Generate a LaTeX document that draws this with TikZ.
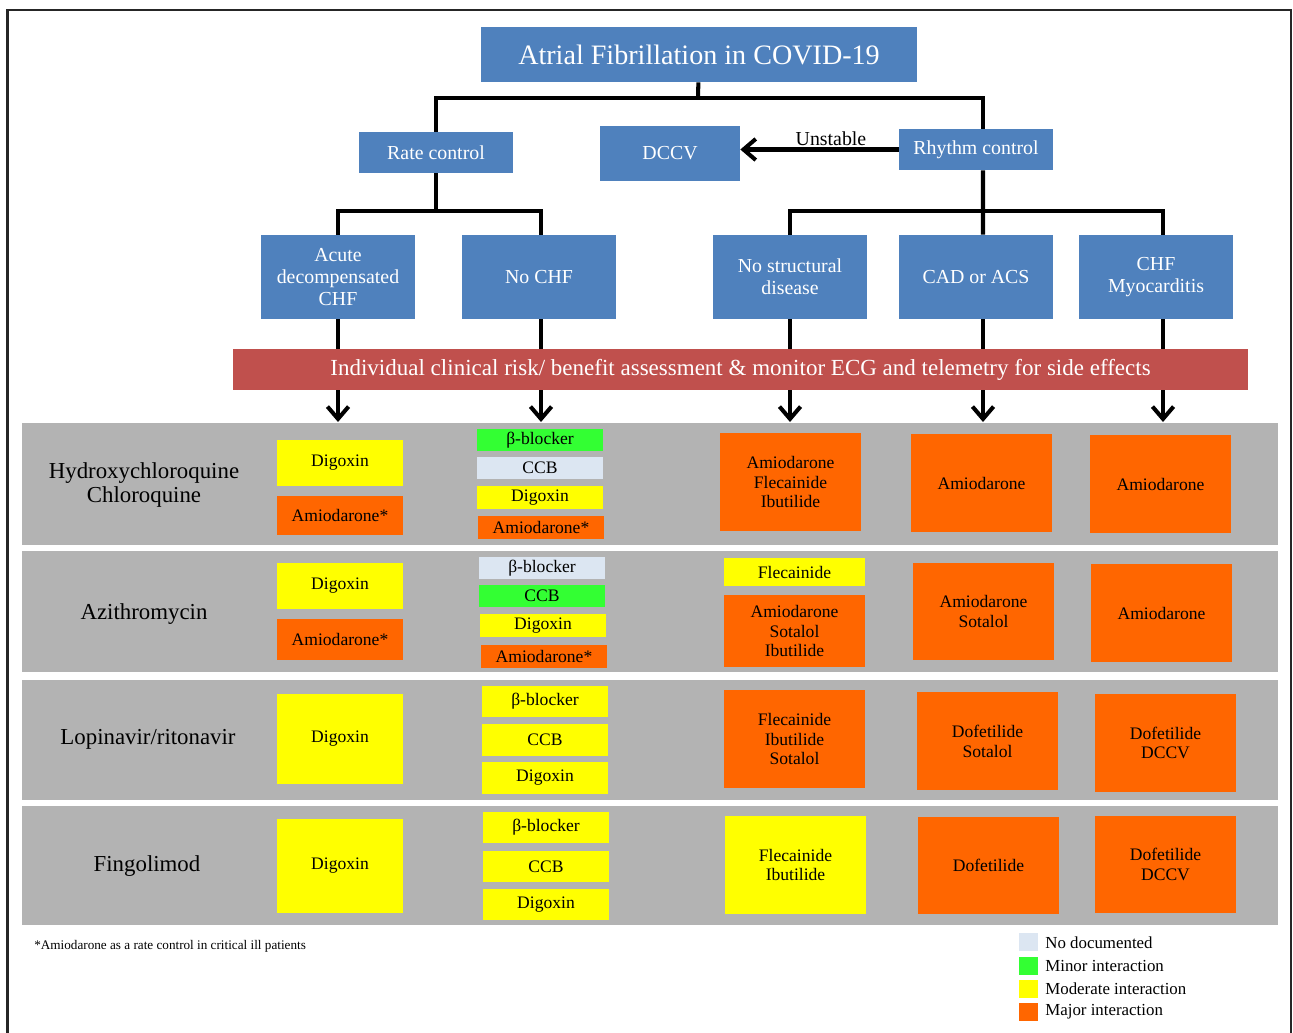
\documentclass[tikz,border=0pt]{standalone}
\usepackage{fontspec}
\setmainfont{Liberation Serif}
\usetikzlibrary{arrows.meta}
\definecolor{boxblue}{HTML}{4F81BD}
\definecolor{riskred}{HTML}{C0504D}
\definecolor{rowgray}{HTML}{B3B3B3}
\definecolor{major}{HTML}{FF6600}
\definecolor{moderate}{HTML}{FFFF00}
\definecolor{minor}{HTML}{33FF33}
\definecolor{nodoc}{HTML}{DCE6F2}
\begin{document}
\begin{tikzpicture}[x=0.02cm,y=-0.02cm]
			\tikzstyle{every node}+=[inner sep=0pt]
			\tikzstyle{head}=[fill=boxblue,text=white,align=center,font=\fontsize{11.3}{12.4}\selectfont]
			\tikzstyle{conn}=[line width=2.3pt,black]
			\tikzstyle{conn arrow}=[conn,-{Straight Barb[length=7pt,width=12pt,line width=2.3pt]}]
			\tikzstyle{row}=[fill=rowgray,minimum width=25.12cm]
			\tikzstyle{drug}=[font=\fontsize{13}{14.2}\selectfont,align=center]
			\tikzstyle{cell}=[font=\fontsize{10}{11.3}\selectfont,align=center]
			\tikzstyle{narrow}=[cell,minimum width=2.52cm]
			\tikzstyle{wide}=[cell,minimum width=2.82cm,minimum height=1.96cm]
			\tikzstyle{key}=[minimum width=0.38cm,minimum height=0.36cm]
			\useasboundingbox (0,0) rectangle (1293,1033);
			\draw [line width=1.3pt,black!85] (7.5,1033) -- (7.5,10) -- (1291,10) -- (1291,1033);
			\node [head,minimum width=8.72cm,minimum height=1.1cm,font=\fontsize{16}{18}\selectfont] (title) at (699,54.5) {Atrial Fibrillation in COVID-19};
			\node [head,minimum width=3.1cm,minimum height=0.82cm] (rate) at (436,152.5) {Rate control};
			\node [head,minimum width=2.8cm,minimum height=1.1cm] (dccv) at (670,153.5) {DCCV};
			\node [head,minimum width=3.08cm,minimum height=0.82cm] (rhythm) at (976,149.5) {Rhythm control};
			\node [head,minimum width=3.08cm,minimum height=1.68cm] (acute) at (338,277) {Acute\\decompensated\\CHF};
			\node [head,minimum width=3.08cm,minimum height=1.68cm] (nochf) at (539,277) {No CHF};
			\node [head,minimum width=3.08cm,minimum height=1.68cm] (nostruct) at (790,277) {No structural\\disease};
			\node [head,minimum width=3.08cm,minimum height=1.68cm] (cad) at (976,277) {CAD or ACS};
			\node [head,minimum width=3.08cm,minimum height=1.68cm] (myo) at (1156,277) {CHF\\Myocarditis};
			\coordinate (tj) at (698,98);
			\coordinate (rj) at (436,211);
			\coordinate (hj) at (983,211);
			\draw [conn] (title) -- (tj);
			\draw [conn] (rate.north) |- (tj) -| ([xshift=0.14cm]rhythm.north);
			\draw [conn] (rate) -- (rj);
			\draw [conn] (acute.north) |- (rj) -| ([xshift=0.04cm]nochf.north);
			\draw [conn] ([xshift=0.14cm]rhythm.south) -- (hj);
			\draw [conn] (nostruct.north) |- (hj) -| ([xshift=0.14cm]myo.north);
			\draw [conn] ([xshift=0.14cm]cad.north) -- (hj);
			\draw [conn arrow] (rhythm.west) -- (rhythm.west -| dccv.east);
			\node [font=\fontsize{11.3}{12.4}\selectfont] (unstable) at (831,139) {Unstable};
			\coordinate (e1) at (338,422);
			\coordinate (e2) at (541,422);
			\coordinate (e3) at (790,422);
			\coordinate (e4) at (983,422);
			\coordinate (e5) at (1163,422);
			\draw [conn arrow] (acute.south -| e1) -- (e1);
			\draw [conn arrow] (nochf.south -| e2) -- (e2);
			\draw [conn arrow] (nostruct.south -| e3) -- (e3);
			\draw [conn arrow] (cad.south -| e4) -- (e4);
			\draw [conn arrow] (myo.south -| e5) -- (e5);
			\node [fill=riskred,text=white,minimum width=20.3cm,minimum height=0.82cm,font=\fontsize{13.1}{14.5}\selectfont] (risk) at (740.5,369.5) {Individual clinical risk/ benefit assessment \& monitor ECG and telemetry for side effects};
			\node [row,minimum height=2.44cm] (row1) at (650,484) {};
			\node [row,minimum height=2.42cm] (row2) at (650,611.5) {};
			\node [row,minimum height=2.4cm] (row3) at (650,740) {};
			\node [row,minimum height=2.38cm] (row4) at (650,865.5) {};
			\node [drug] (hcq) at (144,485) {Hydroxychloroquine\\Chloroquine};
			\node [drug] (azi) at (144,614) {Azithromycin};
			\node [drug] (lop) at (148,739) {Lopinavir/ritonavir};
			\node [drug] (fin) at (147,866) {Fingolimod};
			\node [narrow,fill=moderate,minimum height=0.92cm] (r1a) at (340,463) {Digoxin};
			\node [narrow,fill=major,minimum height=0.78cm] (r1b) at (340,515.5) {Amiodarone*};
			\node [narrow,fill=minor,minimum height=0.44cm] (r1c) at (540,440) {β-blocker};
			\node [narrow,fill=nodoc,minimum height=0.44cm] (r1d) at (540,468) {CCB};
			\node [narrow,fill=moderate,minimum height=0.46cm] (r1e) at (540,497.5) {Digoxin};
			\node [narrow,fill=major,minimum height=0.46cm] (r1f) at (541,527.5) {Amiodarone*};
			\node [wide,fill=major] (r1g) at (790.5,482) {Amiodarone\\Flecainide\\Ibutilide};
			\node [wide,fill=major] (r1h) at (981.5,483) {Amiodarone};
			\node [wide,fill=major] (r1i) at (1160.5,484) {Amiodarone};
			\node [narrow,fill=moderate,minimum height=0.92cm] (r2a) at (340,586) {Digoxin};
			\node [narrow,fill=major,minimum height=0.82cm] (r2b) at (340,639.5) {Amiodarone*};
			\node [narrow,fill=nodoc,minimum height=0.44cm] (r2c) at (542,568) {β-blocker};
			\node [narrow,fill=minor,minimum height=0.44cm] (r2d) at (542,596) {CCB};
			\node [narrow,fill=moderate,minimum height=0.46cm] (r2e) at (543,625.5) {Digoxin};
			\node [narrow,fill=major,minimum height=0.46cm] (r2f) at (544,656.5) {Amiodarone*};
			\node [wide,fill=moderate,minimum height=0.56cm] (r2g) at (794.5,572) {Flecainide};
			\node [wide,fill=major,minimum height=1.44cm] (r2h) at (794.5,631) {Amiodarone\\Sotalol\\Ibutilide};
			\node [wide,fill=major,minimum height=1.94cm] (r2i) at (983.5,611.5) {Amiodarone\\Sotalol};
			\node [wide,fill=major] (r2j) at (1161.5,613) {Amiodarone};
			\node [narrow,fill=moderate,minimum height=1.8cm] (r3a) at (340,739) {Digoxin};
			\node [narrow,fill=moderate,minimum height=0.62cm] (r3b) at (545,701.5) {β-blocker};
			\node [narrow,fill=moderate,minimum height=0.64cm] (r3c) at (545,740) {CCB};
			\node [narrow,fill=moderate,minimum height=0.64cm] (r3d) at (545,778) {Digoxin};
			\node [wide,fill=major] (r3e) at (794.5,739) {Flecainide\\Ibutilide\\Sotalol};
			\node [wide,fill=major] (r3f) at (987.5,741) {Dofetilide\\Sotalol};
			\node [wide,fill=major] (r3g) at (1165.5,743) {Dofetilide\\DCCV};
			\node [narrow,fill=moderate,minimum height=1.88cm] (r4a) at (340,866) {Digoxin};
			\node [narrow,fill=moderate,minimum height=0.62cm] (r4b) at (546,827.5) {β-blocker};
			\node [narrow,fill=moderate,minimum height=0.62cm] (r4c) at (546,866.5) {CCB};
			\node [narrow,fill=moderate,minimum height=0.62cm] (r4d) at (546,904.5) {Digoxin};
			\node [wide,fill=moderate] (r4e) at (795.5,865) {Flecainide\\Ibutilide};
			\node [wide,fill=major,minimum height=1.94cm] (r4f) at (988.5,865.5) {Dofetilide};
			\node [wide,fill=major,minimum height=1.94cm] (r4g) at (1165.5,864.5) {Dofetilide\\DCCV};
			\node [anchor=west,font=\fontsize{7.5}{8.5}\selectfont] (note) at (34,946) {*Amiodarone as a rate control in critical ill patients};
			\node [key,fill=nodoc] (k1) at (1028.5,941.5) {};
			\node [key,fill=minor] (k2) at (1028.5,965.5) {};
			\node [key,fill=moderate] (k3) at (1028.5,988.5) {};
			\node [key,fill=major] (k4) at (1028.5,1012) {};
			\node [anchor=west,font=\fontsize{9.6}{11}\selectfont] (k1t) at (1045,943) {No documented};
			\node [anchor=west,font=\fontsize{9.6}{11}\selectfont] (k2t) at (1045,966) {Minor interaction};
			\node [anchor=west,font=\fontsize{9.6}{11}\selectfont] (k3t) at (1045,989) {Moderate interaction};
			\node [anchor=west,font=\fontsize{9.6}{11}\selectfont] (k4t) at (1045,1012) {Major interaction};
\end{tikzpicture}
\end{document}
